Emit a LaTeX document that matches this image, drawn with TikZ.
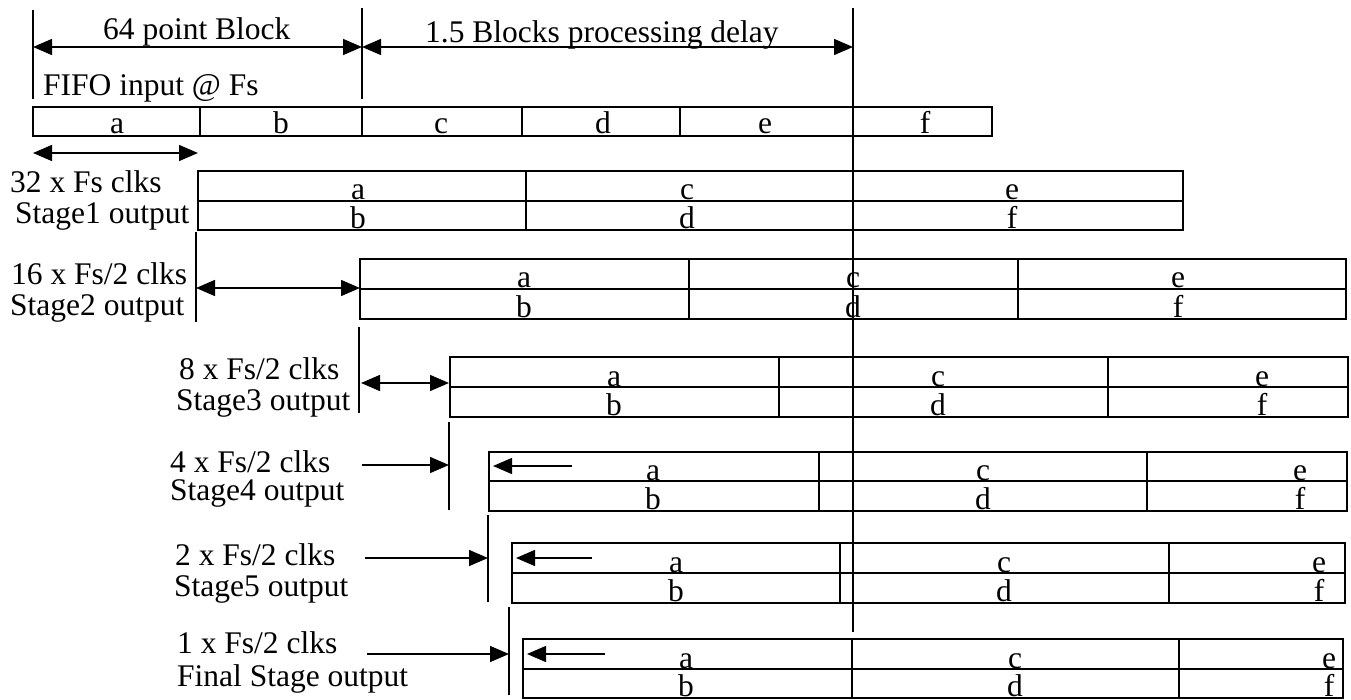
\documentclass[tikz,border=0pt]{standalone}
\usepackage{fontspec}
\setmainfont{Liberation Serif}
\usetikzlibrary{arrows.meta}
\begin{document}
\begin{tikzpicture}[x=1pt,y=-1pt,
  txt/.style={font=\fontsize{31.5}{31.5}\selectfont, inner sep=0pt, anchor=base west},
  celltxt/.style={font=\fontsize{31.5}{31.5}\selectfont, inner sep=0pt, anchor=base},
  boxline/.style={line width=1.8pt},
  marker/.style={line width=1.6pt},
  arr/.style={line width=1.4pt, -{Triangle[length=19pt,width=16pt]}},
  darr/.style={line width=1.4pt, {Triangle[length=19pt,width=16pt]}-{Triangle[length=19pt,width=16pt]}}]
\useasboundingbox (0,0) rectangle (1351,700);

% vertical marker lines
\coordinate (v0t) at (33,10);   \coordinate (v0b) at (33,99);
\coordinate (v1t) at (362,8);   \coordinate (v1b) at (362,99);
\coordinate (vlt) at (853,8);   \coordinate (vlb) at (853,632);
\coordinate (v2t) at (196,232); \coordinate (v2b) at (196,322);
\coordinate (v3t) at (359,327); \coordinate (v3b) at (359,413);
\coordinate (v4t) at (449,422); \coordinate (v4b) at (449,510);
\coordinate (v5t) at (488,515); \coordinate (v5b) at (488,602);
\coordinate (v6t) at (509,607); \coordinate (v6b) at (509,695);
\foreach \v in {v0,v1,vl,v2,v3,v4,v5,v6} \draw[marker] (\v t) -- (\v b);

% top dimension arrows
\coordinate (a1l) at (33,47);  \coordinate (a1r) at (362,47);
\coordinate (a2r) at (853,47);
\draw[darr] (a1l) -- (a1r);
\draw[darr] (a1r) -- (a2r);
\node[txt] (blk) at (103,40) {64 point Block};
\node[txt] (delay) at (425,43) {1.5 Blocks processing delay};
\node[txt] (fifo) at (43,96) {FIFO input @ Fs};

% FIFO row
\draw[boxline] (33,107) rectangle (992,136);
\foreach \x in {200,362,522,680} \draw[boxline] (\x,107) -- (\x,136);
\foreach \t/\x in {a/117,b/281,c/441,d/603,e/765,f/925}
  \node[celltxt] (fifo-\t) at (\x,134) {\t};

% first dimension arrow below FIFO
\coordinate (a3l) at (33,153); \coordinate (a3r) at (198,153);
\draw[darr] (a3l) -- (a3r);

% stage rows
\foreach \n/\xa/\xb/\xc/\xd/\yt/\ym/\yb/\la/\lb/\lc in {
  s1/198/526/853/1183/171/201/230/358/687/1012,
  s2/360/689/1018/1346/259/289/319/524/853/1178,
  s3/450/779/1108/1348/357/387/417/614/938/1262,
  s4/489/819/1147/1347/452/481/511/653/983/1300,
  s5/512/840/1169/1345/543/573/603/676/1004/1319,
  s6/523/852/1179/1343/639/669/698/686/1015/1329}{
  \draw[boxline] (\xa,\yt) rectangle (\xd,\yb);
  \draw[boxline] (\xa,\ym) -- (\xd,\ym);
  \draw[boxline] (\xb,\yt) -- (\xb,\yb);
  \draw[boxline] (\xc,\yt) -- (\xc,\yb);
  \node[celltxt] (\n-a) at (\la,\ym-1) {a};
  \node[celltxt] (\n-c) at (\lb,\ym-1) {c};
  \node[celltxt] (\n-e) at (\lc,\ym-1) {e};
  \node[celltxt] (\n-b) at (\la,\yb-1.5) {b};
  \node[celltxt] (\n-d) at (\lb,\yb-1.5) {d};
  \node[celltxt] (\n-f) at (\lc,\yb-1.5) {f};
}

% stage labels
\node[txt] (l1a) at (10,193) {32 x Fs clks};
\node[txt] (l1b) at (15,224) {Stage1 output};
\node[txt] (l2a) at (11,285) {16 x Fs/2 clks};
\node[txt] (l2b) at (10,316) {Stage2 output};
\node[txt] (l3a) at (179,379) {8 x Fs/2 clks};
\node[txt] (l3b) at (176,410) {Stage3 output};
\node[txt] (l4a) at (170,472) {4 x Fs/2 clks};
\node[txt] (l4b) at (170,500) {Stage4 output};
\node[txt] (l5a) at (175,565) {2 x Fs/2 clks};
\node[txt] (l5b) at (174,596) {Stage5 output};
\node[txt] (l6a) at (177,653) {1 x Fs/2 clks};
\node[txt] (l6b) at (177,686) {Final Stage output};

% stage arrows
\coordinate (a4l) at (196,288); \coordinate (a4r) at (360,288);
\draw[darr] (a4l) -- (a4r);
\coordinate (a5l) at (361,383); \coordinate (a5r) at (449,383);
\draw[darr] (a5l) -- (a5r);
\coordinate (a6l) at (362,465); \coordinate (a6r) at (449,465);
\draw[arr] (a6l) -- (a6r);
\coordinate (a7l) at (365,558); \coordinate (a7r) at (488,558);
\draw[arr] (a7l) -- (a7r);
\coordinate (a8l) at (367,654); \coordinate (a8r) at (509,654);
\draw[arr] (a8l) -- (a8r);

% inner left arrows
\coordinate (i4s) at (572,466); \coordinate (i4e) at (493,466);
\draw[arr] (i4s) -- (i4e);
\coordinate (i5s) at (592,558); \coordinate (i5e) at (516,558);
\draw[arr] (i5s) -- (i5e);
\coordinate (i6s) at (605,654); \coordinate (i6e) at (527,654);
\draw[arr] (i6s) -- (i6e);
\end{tikzpicture}
\end{document}
